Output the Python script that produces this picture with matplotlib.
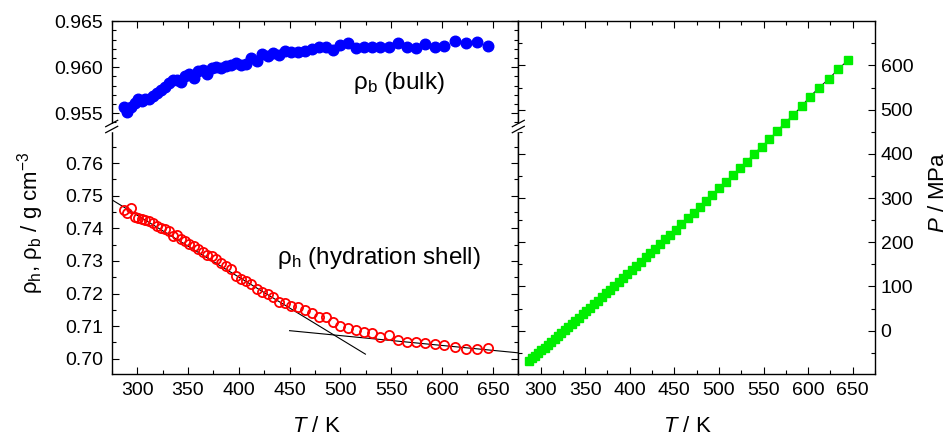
import matplotlib
matplotlib.use("Agg")
import matplotlib.pyplot as plt
from matplotlib.lines import Line2D
from matplotlib.ticker import MultipleLocator, FixedLocator

plt.rcParams['font.family'] = ['Liberation Sans', 'DejaVu Sans']
plt.rcParams['mathtext.fontset'] = 'custom'
plt.rcParams['mathtext.rm'] = 'Liberation Sans'
plt.rcParams['mathtext.it'] = 'Liberation Sans:italic'
plt.rcParams['mathtext.default'] = 'regular'

# temperature grid shared by all three series (K)
temps = [287.0, 290.5, 294.0, 297.5, 301.0, 304.6, 308.2, 311.9, 315.6, 319.4,
         323.2, 327.1, 331.0, 335.0, 339.0, 343.1, 347.2, 351.4, 355.7, 360.0,
         364.4, 368.9, 373.4, 378.0, 382.7, 387.5, 392.3, 397.2, 402.2, 407.3,
         412.5, 417.8, 423.1, 428.5, 434.0, 439.6, 445.3, 451.4, 458.0, 464.9,
         472.0, 478.7, 485.8, 492.5, 500.0, 507.9, 515.4, 523.2, 531.1, 539.3,
         547.9, 556.5, 565.4, 574.4, 583.4, 593.1, 602.1, 612.5, 623.2, 633.9,
         645.1]

# bulk density (g/cm3)
rho_bulk = [0.9557, 0.9551, 0.9557, 0.9561, 0.9565, 0.9563, 0.9565, 0.9566, 0.9569, 0.9572,
            0.9575, 0.9579, 0.9583, 0.9586, 0.9586, 0.9584, 0.9590, 0.9593, 0.9588, 0.9596,
            0.9597, 0.9593, 0.9599, 0.9600, 0.9599, 0.9601, 0.9603, 0.9605, 0.9602, 0.9604,
            0.9610, 0.9607, 0.9614, 0.9612, 0.9615, 0.9613, 0.9618, 0.9617, 0.9617, 0.9618,
            0.9620, 0.9622, 0.9622, 0.9619, 0.9624, 0.9626, 0.9621, 0.9622, 0.9622, 0.9622,
            0.9622, 0.9626, 0.9622, 0.9621, 0.9625, 0.9622, 0.9623, 0.9629, 0.9626, 0.9627,
            0.9623]

# hydration shell density (g/cm3)
rho_shell = [0.7456, 0.7448, 0.7462, 0.7434, 0.7433, 0.7430, 0.7425, 0.7422, 0.7415, 0.7408,
             0.7402, 0.7398, 0.7391, 0.7375, 0.7380, 0.7367, 0.7360, 0.7352, 0.7347, 0.7338,
             0.7328, 0.7318, 0.7315, 0.7305, 0.7295, 0.7285, 0.7275, 0.7255, 0.7245, 0.7238,
             0.7230, 0.7215, 0.7205, 0.7198, 0.7190, 0.7175, 0.7172, 0.7162, 0.7160, 0.7150,
             0.7139, 0.7129, 0.7127, 0.7114, 0.7100, 0.7093, 0.7088, 0.7083, 0.7080, 0.7068,
             0.7073, 0.7057, 0.7052, 0.7052, 0.7049, 0.7045, 0.7042, 0.7037, 0.7029, 0.7029,
             0.7032]

# pressure (MPa)
pressure = [-69.0, -62.9, -56.8, -50.7, -44.6, -38.3, -32.0, -25.5, -19.0, -12.3,
            -5.6, 1.3, 8.2, 15.3, 22.4, 29.8, 37.1, 44.6, 52.4, 60.1,
            68.1, 76.2, 84.4, 92.7, 101.3, 110.1, 118.9, 127.8, 137.1, 146.5,
            156.1, 165.9, 175.8, 185.9, 196.2, 206.7, 217.4, 228.9, 241.4, 254.5,
            267.1, 280.7, 293.6, 307.2, 322.4, 337.3, 352.5, 367.7, 382.6, 400.0,
            416.6, 433.3, 452.1, 470.9, 488.3, 508.7, 529.8, 550.2, 569.8, 591.8,
            612.9]

# linear fits to the shell density, low- and high-temperature branches
fit_low_T = [275.4, 524.6]
fit_low_rho = [0.7487, 0.7014]
fit_high_T = [450.0, 675.0]
fit_high_rho = [0.7086, 0.7018]

W, H = 951, 437
fig = plt.figure(figsize=(W / 100, H / 100), dpi=100)

x0, xm, x1 = 111.7, 518.3, 875.0
ytop, ybrk, ybot = 21.3, 127.0, 374.0


def fx(px):
    return px / W


def fy(py):
    return 1 - py / H


ax_top = fig.add_axes([fx(x0), fy(ybrk), fx(xm) - fx(x0), fy(ytop) - fy(ybrk)])
ax_bot = fig.add_axes([fx(x0), fy(ybot), fx(xm) - fx(x0), fy(ybrk) - fy(ybot)])
ax_p = fig.add_axes([fx(xm), fy(ybot), fx(x1) - fx(xm), fy(ytop) - fy(ybot)])

tick_kw = dict(direction='in', labelsize=14, width=0.8, top=True, right=True)
for ax in (ax_top, ax_bot, ax_p):
    ax.set_xlim(275, 675)
    ax.xaxis.set_major_locator(MultipleLocator(50))
    ax.xaxis.set_minor_locator(MultipleLocator(25))
    ax.tick_params(which='major', length=5, pad=6, **tick_kw)
    ax.tick_params(which='minor', length=2.6, **tick_kw)
    for s in ax.spines.values():
        s.set_linewidth(1.0)

# bulk branch
ax_top.plot(temps, rho_bulk, 'o', color='#0000ff', ms=7.6, mec='#0000ff')
ax_top.set_ylim(0.95351, 0.965)
ax_top.yaxis.set_major_locator(FixedLocator([0.955, 0.960, 0.965]))
ax_top.yaxis.set_minor_locator(MultipleLocator(0.001))
ax_top.set_yticklabels(['0.955', '0.960', '0.965'])
ax_top.spines['bottom'].set_visible(False)
ax_top.tick_params(axis='x', which='both', bottom=False, labelbottom=False)
ax_top.tick_params(axis='y', right=True, labelright=False)

# hydration shell branch
ax_bot.plot(fit_low_T, fit_low_rho, color='black', lw=0.8)
ax_bot.plot(fit_high_T, fit_high_rho, color='black', lw=0.8)
ax_bot.plot(temps, rho_shell, 'o', mfc='none', mec='#ff0000', mew=1.3, ms=6.6)
ax_bot.set_ylim(0.69531, 0.77107)
ax_bot.yaxis.set_major_locator(FixedLocator([0.70, 0.71, 0.72, 0.73, 0.74, 0.75, 0.76]))
ax_bot.yaxis.set_minor_locator(FixedLocator([0.705, 0.715, 0.725, 0.735, 0.745, 0.755, 0.765]))
ax_bot.yaxis.set_major_formatter(matplotlib.ticker.FormatStrFormatter('%.2f'))
ax_bot.spines['top'].set_visible(False)
ax_bot.tick_params(axis='x', which='both', top=False)

# pressure panel
ax_p.plot(temps, pressure, '-', color='black', lw=0.7)
ax_p.plot(temps, pressure, 's', color='#00ee00', mec='#00ee00', ms=5.2)
ax_p.set_ylim(-98, 700)
ax_p.yaxis.set_major_locator(FixedLocator([0, 100, 200, 300, 400, 500, 600]))
ax_p.yaxis.set_minor_locator(FixedLocator([-50, 50, 150, 250, 350, 450, 550, 650]))
ax_p.tick_params(axis='y', labelleft=False, labelright=True, pad=4)

# axis break marks on the left spine and the shared spine
for bx in (x0, xm):
    fig.add_artist(Line2D([fx(bx), fx(bx)], [fy(124.5), fy(129.5)],
                          transform=fig.transFigure, color='white', lw=2.5))
    for cy in (123.5, 129.5):
        fig.add_artist(Line2D([fx(bx - 6), fx(bx + 6)], [fy(cy + 3.2), fy(cy - 3.2)],
                              transform=fig.transFigure, color='black', lw=0.9))

fig.text(fx(353), fy(89), r'$\rho_b$ (bulk)', fontsize=17.5, ha='left', va='baseline')
fig.text(fx(277), fy(264), r'$\rho_h$ (hydration shell)', fontsize=17.5,
         ha='left', va='baseline')

fig.text(fx(31), fy(223), r'$\rho_h$, $\rho_b$ / g cm$^{-3}$', fontsize=16,
         rotation=90, ha='center', va='center')
fig.text(fx(938), fy(192), r'$\mathit{P}$ / MPa', fontsize=16,
         rotation=90, ha='center', va='center')
fig.text(fx(316), fy(426), r'$\mathit{T}$ / K', fontsize=16, ha='center', va='center')
fig.text(fx(687), fy(426), r'$\mathit{T}$ / K', fontsize=16, ha='center', va='center')

fig.savefig('out.png', dpi=100)
